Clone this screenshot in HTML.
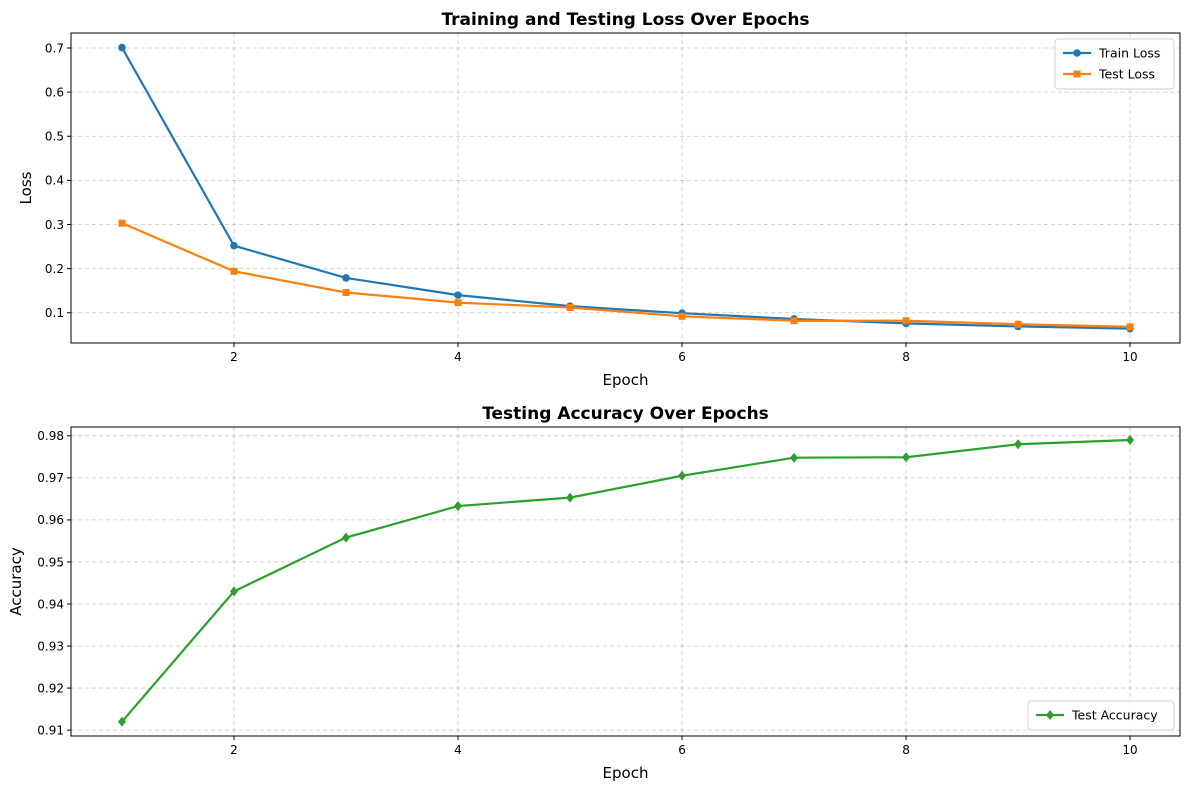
<!DOCTYPE html>
<html><head><meta charset="utf-8"><style>
body{margin:0;background:#fff;}
svg{display:block;font-family:"DejaVu Sans","Liberation Sans",sans-serif;}
</style></head><body>
<svg id="chart" width="1189" height="790"></svg>
<script>
const epochs=[1,2,3,4,5,6,7,8,9,10];
const trainLoss=[0.701,0.252,0.179,0.140,0.115,0.099,0.086,0.076,0.069,0.064];
const testLoss=[0.303,0.194,0.146,0.123,0.112,0.092,0.082,0.082,0.074,0.068];
const testAcc=[0.912,0.943,0.9558,0.9633,0.9653,0.9705,0.9748,0.9749,0.978,0.979];
const xTicks=[2,4,6,8,10];
const lossTicks=[0.1,0.2,0.3,0.4,0.5,0.6,0.7];
const accTicks=[0.91,0.92,0.93,0.94,0.95,0.96,0.97,0.98];
const NS="http://www.w3.org/2000/svg";
const svg=document.getElementById('chart');
function mk(t,a,p){const e=document.createElementNS(NS,t);for(const k in a)e.setAttribute(k,a[k]);(p||svg).appendChild(e);return e;}
const L=71,R=1180;
const xs=v=>L+(v-0.545)/(10.446-0.545)*(R-L);
function panel(top,bot,ymin,ymax,yTicks,fmt,title,ylab,ylabX,series,legendPos,name){
  const g=mk('g',{});
  
  
  const ys=v=>bot-(v-ymin)/(ymax-ymin)*(bot-top);
  xTicks.forEach(t=>{const x=xs(t);
    const gl=mk('line',{x1:x,x2:x,y1:top,y2:bot,stroke:'#b0b0b0','stroke-width':0.8,'stroke-dasharray':'4,3',opacity:0.7},g);
    
    mk('line',{x1:x,x2:x,y1:bot,y2:bot+4,stroke:'#000'},g);
    const tx=mk('text',{x:x,y:bot+18,'text-anchor':'middle','font-size':12},g);tx.textContent=t;
    });
  yTicks.forEach(t=>{const y=ys(t);
    const gl=mk('line',{x1:L,x2:R,y1:y,y2:y,stroke:'#b0b0b0','stroke-width':0.8,'stroke-dasharray':'4,3',opacity:0.7},g);
    
    mk('line',{x1:L-4,x2:L,y1:y,y2:y,stroke:'#000'},g);
    const tx=mk('text',{x:L-7,y:y+4.3,'text-anchor':'end','font-size':12},g);tx.textContent=fmt(t);
    });
  series.forEach(s=>{
    const pts=epochs.map((e,i)=>xs(e)+','+ys(s.data[i])).join(' ');
    const pl=mk('polyline',{points:pts,fill:'none',stroke:s.color,'stroke-width':2.2},g);
    
    epochs.forEach((e,i)=>{const x=xs(e),y=ys(s.data[i]);let m;
      if(s.marker==='o')m=mk('circle',{cx:x,cy:y,r:3.8,fill:s.color},g);
      else if(s.marker==='s')m=mk('rect',{x:x-3.5,y:y-3.5,width:7,height:7,fill:s.color},g);
      else m=mk('polygon',{points:`${x},${y-5} ${x+4},${y} ${x},${y+5} ${x-4},${y}`,fill:s.color},g);
      });
  });
  const fr=mk('rect',{x:L,y:top,width:R-L,height:bot-top,fill:'none',stroke:'#000','stroke-width':1},g);
  
  const ti=mk('text',{x:(L+R)/2,y:top-8,'text-anchor':'middle','font-size':17,'font-weight':'bold'},g);ti.textContent=title;
  
  const xl=mk('text',{x:(L+R)/2,y:bot+42,'text-anchor':'middle','font-size':15},g);xl.textContent='Epoch';
  
  const cy=(top+bot)/2;
  const yl=mk('text',{x:0,y:0,'text-anchor':'middle','font-size':15,transform:`translate(${ylabX},${cy}) rotate(-90)`},g);yl.textContent=ylab;
  
  const lw=legendPos.w,lh=series.length*21+8,lx=R-6-lw,ly=legendPos.bottom?bot-6-lh:top+6;
  const lg=mk('g',{},g);
  mk('rect',{x:lx,y:ly,width:lw,height:lh,rx:3,fill:'#fff',stroke:'#ccc',opacity:0.9},lg);
  series.forEach((s,i)=>{const yy=ly+14+i*21;
    const le=mk('g',{},lg);
    mk('line',{x1:lx+8,x2:lx+36,y1:yy,y2:yy,stroke:s.color,'stroke-width':2.2},le);
    const mx=lx+22;
    if(s.marker==='o')mk('circle',{cx:mx,cy:yy,r:3.8,fill:s.color},le);
    else if(s.marker==='s')mk('rect',{x:mx-3.5,y:yy-3.5,width:7,height:7,fill:s.color},le);
    else mk('polygon',{points:`${mx},${yy-5} ${mx+4},${yy} ${mx},${yy+5} ${mx-4},${yy}`,fill:s.color},le);
    const t=mk('text',{x:lx+44,y:yy+4.5,'font-size':12.5},le);t.textContent=s.label;});
}
panel(33,343,0.0315,0.734,lossTicks,v=>v.toFixed(1),'Training and Testing Loss Over Epochs','Loss',31,
 [{data:trainLoss,color:'#1f77b4',marker:'o',label:'Train Loss',name:'train-loss'},
  {data:testLoss,color:'#ff7f0e',marker:'s',label:'Test Loss',name:'test-loss'}],{w:119,bottom:false},'loss-panel');
panel(427,736,0.9086,0.9821,accTicks,v=>v.toFixed(2),'Testing Accuracy Over Epochs','Accuracy',21,
 [{data:testAcc,color:'#2ca02c',marker:'d',label:'Test Accuracy',name:'test-accuracy'}],{w:146,bottom:true},'accuracy-panel');
</script>
</body></html>
